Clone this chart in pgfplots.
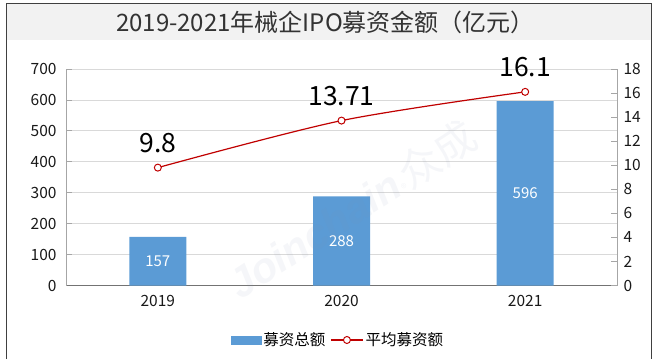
\documentclass[border=0pt]{standalone}
\usepackage{pgfplots}
\pgfplotsset{compat=1.18}
\usepackage{fontspec}
\setmainfont{Noto Sans CJK SC}
\newfontfamily\latinfont{Liberation Sans}
\definecolor{barblue}{HTML}{5B9BD5}
\definecolor{linered}{HTML}{C00000}
\definecolor{band}{HTML}{F2F2F2}
\definecolor{gridc}{HTML}{D9D9D9}
\definecolor{axc}{HTML}{A6A6A6}
\definecolor{wmc}{HTML}{8090B0}
\begin{document}
\begin{tikzpicture}[x=1pt,y=1pt]
\useasboundingbox (0,0) rectangle (653,359);
\fill[band] (6,319) rectangle (651,355);
\draw[black!75, line width=1pt] (6,0) -- (6,355) -- (651,355) -- (651,0);
\node[font=\fontsize{24}{26}\selectfont, text=black!80] at (325.5,337) {2019-2021年械企IPO募资金额（亿元）};

\begin{axis}[
  at={(66pt,73.5pt)}, anchor=south west, scale only axis,
  width=551pt, height=216.5pt,
  xmin=-0.5, xmax=2.5, ymin=0, ymax=700,
  xtick={0,1,2}, xticklabels={2019,2020,2021},
  ytick={0,100,...,700},
  axis x line*=bottom, axis y line*=left,
  ymajorgrids, grid style={gridc, line width=0.8pt},
  x axis line style={black!55, line width=0.8pt, -},
  y axis line style={axc, line width=0.8pt, -},
  xtick style={draw=none}, ytick style={axc, line width=0.8pt},
  tick align=inside, major tick length=6pt,
  /pgf/number format/assume math mode=true,
  ticklabel style={font=\fontsize{15.5}{17}\selectfont, text=black!90},
  yticklabel style={xshift=-6pt},
  xticklabel style={yshift=-6pt},
]
\addplot[ybar, bar width=57pt, bar shift=0pt, fill=barblue, draw=none,
  nodes near coords, visualization depends on={y \as \barval},
  nodes near coords style={anchor=center, text=white, font=\fontsize{15}{17}\selectfont, yshift=-0.154643pt*\barval}]
  coordinates {(0,157) (1,288) (2,596)};
\end{axis}

\begin{axis}[
  at={(66pt,73.5pt)}, anchor=south west, scale only axis,
  width=551pt, height=216.5pt,
  xmin=-0.5, xmax=2.5, ymin=0, ymax=18,
  ytick={0,2,...,18},
  axis x line=none, axis y line*=right,
  y axis line style={axc, line width=0.8pt, -},
  ytick style={axc, line width=0.8pt},
  tick align=inside, major tick length=6pt,
  /pgf/number format/assume math mode=true,
  ticklabel style={font=\fontsize{15.5}{17}\selectfont, text=black!90},
  yticklabel style={xshift=3pt},
  legend style={at={(0.4936,-0.2517)}, anchor=center, draw=none, fill=none,
    legend columns=2, font=\fontsize{15.5}{17}\selectfont,
    /tikz/every even column/.append style={column sep=3pt}},
]
\addlegendimage{legend image code/.code={\fill[barblue] (0pt,-4pt) rectangle (30pt,4pt);}}
\addlegendentry{募资总额}
\addplot[linered, line width=1.2pt, smooth, mark=*, mark size=3.5pt,
  mark options={fill=white, draw=linered, line width=1pt},
  legend image code/.code={\draw[linered, line width=1.2pt] (0pt,0pt) -- (32pt,0pt);
     \draw[linered, fill=white, line width=1pt] (16pt,0pt) circle (3.5pt);},
  nodes near coords,
  nodes near coords style={font=\fontsize{26.5}{29}\selectfont, text=black, anchor=base, inner sep=0pt, yshift=15pt}]
  coordinates {(0,9.8) (1,13.71) (2,16.1)};
\addlegendentry{平均募资额}
\end{axis}

\node[rotate=33, opacity=0.08, text=wmc, font=\fontsize{42}{46}\selectfont] at (352,150)
  {{\latinfont\bfseries\itshape Joinchain}{\fontsize{12}{12}\selectfont ®}众成};
\end{tikzpicture}
\end{document}
